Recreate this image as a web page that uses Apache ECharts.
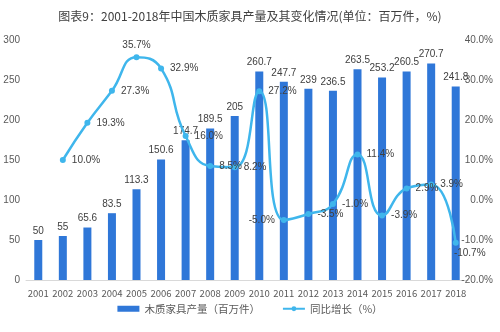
<!DOCTYPE html>
<html><head><meta charset="utf-8">
<script src="https://cdn.jsdelivr.net/npm/echarts@6/dist/echarts.min.js"></script>
<style>html,body{margin:0;padding:0;background:#fff}#c{width:500px;height:332px}</style>
</head><body><div id="c"></div>
<script>
var years = ['2001','2002','2003','2004','2005','2006','2007','2008','2009','2010','2011','2012','2013','2014','2015','2016','2017','2018'];
var production = [50,55,65.6,83.5,113.3,150.6,174.7,189.5,205,260.7,247.7,239,236.5,263.5,253.2,260.5,270.7,241.8];
var growth = [null,10.0,19.3,27.3,35.7,32.9,16.0,8.5,8.2,27.2,-5.0,-3.5,-1.0,11.4,-3.9,2.9,3.9,-10.7];
var leftTicks = [0,300,50];
var rightTicks = [-20,40,10];
var font = 'Microsoft YaHei, "Noto Sans CJK SC", sans-serif';
// label placement styling (not data)
var labelStyle = {4:{position:'top',distance:4},10:{position:'left',distance:6},17:{position:'bottom',distance:2,offset:[14,0]}};
var growthData = growth.map(function(v,i){
  var d = {value:v};
  if (labelStyle[i]) d.label = labelStyle[i];
  return d;
});
var chart = echarts.init(document.getElementById('c'));
chart.setOption({
  animation:false,
  title:{text:'图表9：2001-2018年中国木质家具产量及其变化情况(单位：百万件，%)',left:'center',top:5,
    textStyle:{fontSize:12,fontWeight:'normal',color:'#404040',fontFamily:font}},
  legend:{bottom:13,left:'center',itemGap:22,itemWidth:22,itemHeight:6,
    textStyle:{fontSize:10.5,color:'#595959',fontFamily:font},
    data:[{name:'木质家具产量（百万件）',icon:'rect'},{name:'同比增长（%）'}]},
  grid:{left:26,right:32,top:40,bottom:52},
  xAxis:{type:'category',data:years,
    axisLine:{lineStyle:{color:'#d9d9d9'}},axisTick:{show:false},
    axisLabel:{fontSize:9.5,color:'#595959',interval:0,margin:9,fontFamily:font}},
  yAxis:[
    {type:'value',min:leftTicks[0],max:leftTicks[1],interval:leftTicks[2],splitLine:{show:false},
      axisLabel:{fontSize:10,color:'#595959',margin:6}},
    {type:'value',min:rightTicks[0],max:rightTicks[1],interval:rightTicks[2],splitLine:{show:false},
      axisLabel:{fontSize:10,color:'#595959',align:'right',margin:25,formatter:function(v){return v.toFixed(1)+'%';}}}
  ],
  series:[
    {name:'木质家具产量（百万件）',type:'bar',data:production,barWidth:8,
      itemStyle:{color:'#2f77d8'},
      label:{show:true,position:'top',fontSize:10,color:'#404040',distance:4}},
    {name:'同比增长（%）',type:'line',yAxisIndex:1,data:growthData,smooth:0.5,
      symbol:'circle',symbolSize:6,
      lineStyle:{color:'#3fb6ec',width:2.5},itemStyle:{color:'#3fb6ec'},
      label:{show:true,position:'right',fontSize:10,color:'#404040',distance:6,
        formatter:function(p){return p.value.toFixed(1)+'%';}}}
  ]
});
</script></body></html>
